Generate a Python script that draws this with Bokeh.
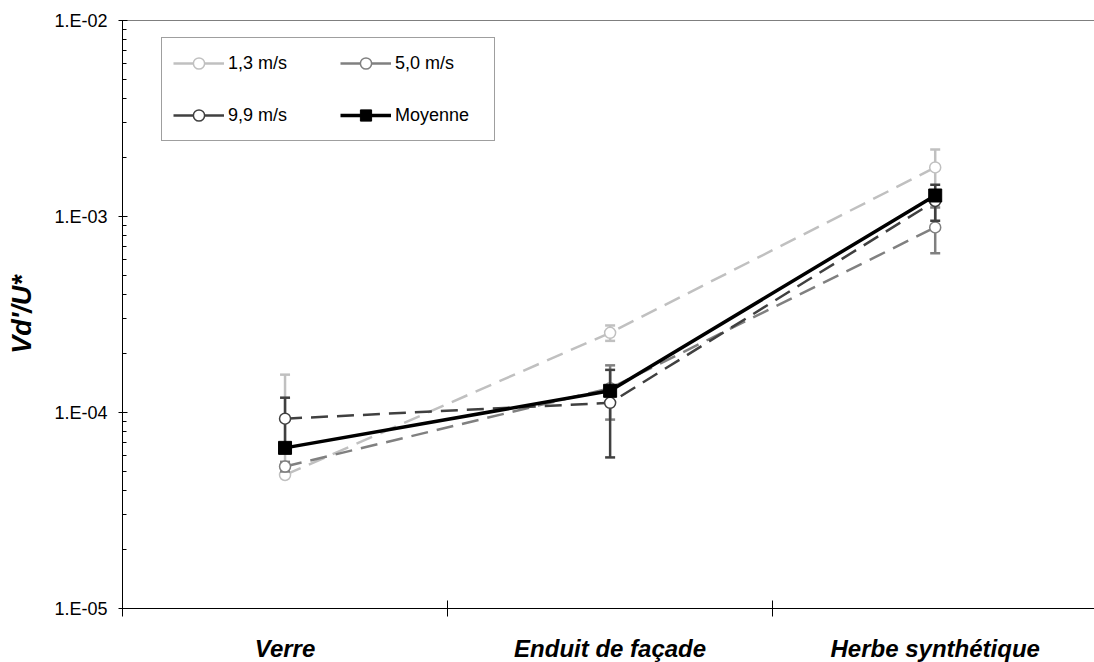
import numpy as np
from bokeh.plotting import figure
from bokeh.models import (Range1d, FixedTicker, Legend, LegendItem, Span,
                          ColumnDataSource, CustomJSTickFormatter)
from bokeh.embed import file_html
from bokeh.resources import INLINE

# ---------------- data ----------------
categories = ["Verre", "Enduit de façade", "Herbe synthétique"]

series_names = ["1,3 m/s", "5,0 m/s", "9,9 m/s"]
v_13 = [4.8e-5, 2.55e-4, 1.78e-3]
v_50 = [5.3e-5, 1.33e-4, 8.8e-4]
v_99 = [9.3e-5, 1.12e-4, 1.20e-3]
moyenne = [6.6e-5, 1.29e-4, 1.28e-3]

err_13_up = [1.08e-4, 2.3e-5, 4.2e-4]
err_13_dn = [0.0, 2.3e-5, 4.2e-4]   # lower bar not shown on log scale for Verre
err_50 = [3e-6, 4.1e-5, 2.3e-4]
err_99 = [2.6e-5, 5.3e-5, 2.5e-4]

y_ticks = [1e-5, 1e-4, 1e-3, 1e-2]
y_tick_labels = ["1.E-05", "1.E-04", "1.E-03", "1.E-02"]
y_label = "Vd'/U*"

# ---------------- styling ----------------
colors = ["#C0C0C0", "#808080", "#404040"]
FONT = "Liberation Sans"

x_pos = [i + 0.5 for i in range(len(categories))]
x_bounds = list(range(len(categories) + 1))
minor_y = [k * t for t in y_ticks[:-1] for k in range(2, 10)]

p = figure(frame_width=972, frame_height=588,
           x_range=Range1d(0, 2.99), y_range=Range1d(y_ticks[0], y_ticks[-1]),
           y_axis_type="log", output_backend="svg", toolbar_location=None,
           min_border_left=122, min_border_right=0, min_border_top=20,
           min_border_bottom=54)
p.outline_line_color = None
p.grid.visible = False
p.background_fill_color = "white"
p.border_fill_color = "white"

# y axis
yax = p.yaxis[0]
yax.ticker = FixedTicker(ticks=y_ticks, minor_ticks=minor_y)
yax.formatter = CustomJSTickFormatter(
    args=dict(yt=y_ticks, lbl=y_tick_labels),
    code="""
    const i = yt.findIndex(t => Math.abs(Math.log10(t) - Math.log10(tick)) < 1e-6);
    return i >= 0 ? lbl[i] : '';
    """)
yax.axis_line_color = "black"
yax.axis_line_width = 1
yax.major_tick_in = 5
yax.major_tick_out = 4
yax.minor_tick_in = 4
yax.minor_tick_out = 0
yax.major_tick_line_color = "black"
yax.minor_tick_line_color = "black"
yax.major_label_standoff = 11
yax.major_label_text_font = FONT
yax.major_label_text_font_size = "18px"
yax.major_label_text_color = "black"
yax.axis_label = y_label
yax.axis_label_text_font = FONT
yax.axis_label_text_font_size = "27px"
yax.axis_label_text_font_style = "bold italic"
yax.axis_label_text_color = "black"
yax.axis_label_standoff = 14

# x axis
xax = p.xaxis[0]
xax.ticker = FixedTicker(ticks=x_pos, minor_ticks=x_bounds)
xax.formatter = CustomJSTickFormatter(
    args=dict(cats=categories),
    code="return cats[Math.floor(tick)] || '';")
xax.axis_line_color = "black"
xax.major_tick_in = 0
xax.major_tick_out = 0
xax.minor_tick_in = 8
xax.minor_tick_out = 8
xax.minor_tick_line_color = "black"
xax.major_label_standoff = 18
xax.major_label_text_font = FONT
xax.major_label_text_font_size = "24px"
xax.major_label_text_font_style = "bold italic"
xax.major_label_text_color = "black"

# top border line
p.add_layout(Span(location=y_ticks[-1], dimension="width", line_color="black", line_width=1))

legend_items = []
series = [
    (series_names[0], v_13, err_13_up, err_13_dn, colors[0]),
    (series_names[1], v_50, err_50, err_50, colors[1]),
    (series_names[2], v_99, err_99, err_99, colors[2]),
]
empty = ColumnDataSource(dict(x=x_pos, y=np.full(len(x_pos), np.nan)))
for name, vals, up, dn, col in series:
    src = ColumnDataSource(dict(
        x=x_pos, y=vals,
        upper=[v + u for v, u in zip(vals, up)],
        lower=[v - d for v, d in zip(vals, dn)]))
    p.segment(x0="x", y0="lower", x1="x", y1="upper", source=src,
              line_color=col, line_width=2.5)
    p.scatter(x="x", y="upper", source=src, marker="dash", size=10,
              line_color=col, line_width=2.5)
    p.scatter(x="x", y="lower", source=src, marker="dash", size=10,
              line_color=col, line_width=2.5)
    p.line(x="x", y="y", source=src, line_color=col, line_width=2.5,
           line_dash="17 9")
    mk = p.scatter(x="x", y="y", source=src, marker="circle", size=11,
                   fill_color="white", line_color=col, line_width=1.5)
    # solid line used only for the legend key (as in the original legend)
    leg_line = p.line(x="x", y="y", source=empty, line_color=col, line_width=2.5)
    legend_items.append(LegendItem(label=name, renderers=[leg_line, mk]))

src_m = ColumnDataSource(dict(x=x_pos, y=moyenne))
lm = p.line(x="x", y="y", source=src_m, line_color="black", line_width=3.5)
sm = p.scatter(x="x", y="y", source=src_m, marker="square", size=13,
               fill_color="black", line_color="black")
legend_items.append(LegendItem(label="Moyenne", renderers=[lm, sm]))

legend = Legend(items=legend_items, location=(39, 467), orientation="horizontal",
                ncols=2, glyph_width=51, glyph_height=28, label_height=28,
                spacing=24, padding=11, label_standoff=4, label_width=88,
                label_text_font=FONT, label_text_font_size="18px",
                label_text_color="black",
                border_line_color="#404040", border_line_width=1,
                background_fill_color="white", background_fill_alpha=1, margin=0)
p.add_layout(legend, "center")

open("out.html", "w").write(file_html(p, INLINE))
